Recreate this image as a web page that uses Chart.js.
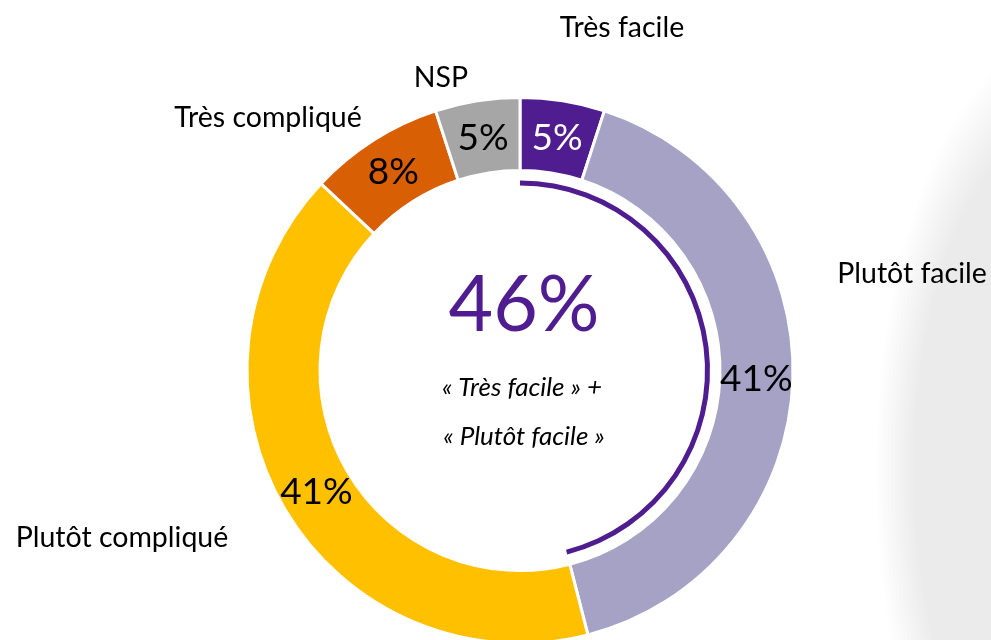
<!DOCTYPE html>
<html>
<head>
<meta charset="utf-8">
<script src="https://cdn.jsdelivr.net/npm/chart.js@4.4.1/dist/chart.umd.min.js"></script>
<style>
  html, body { margin: 0; padding: 0; width: 991px; height: 640px; overflow: hidden; }
  body {
    background: #fff radial-gradient(ellipse 200px 440px at 1075px 470px, #ebebeb 0%, #ebebeb 80%, rgba(255,255,255,0) 100%);
    position: relative;
  }
  #wrap { position: absolute; left: 0; top: 0; width: 991px; height: 740px; }
</style>
</head>
<body>
<div id="wrap"><canvas id="chart"></canvas></div>
<script>
// data
const categories = ['Très facile', 'Plutôt facile', 'Plutôt compliqué', 'Très compliqué', 'NSP'];
const shares = [5, 41, 41, 8, 5];
const sliceColors = ['#4f1d8f', '#a5a2c6', '#ffc000', '#d95f05', '#a6a6a6'];
const easyTotal = [46, 54];   // "Très facile" + "Plutôt facile", rest
const centerTitle = '46%';
const centerLines = ['« Très facile » +', '« Plutôt facile »'];

// where the category names sit, relative to the doughnut centre
const nameOffsets = [
    {x: 102, y: -343}, {x: 392, y: -97}, {x: -398, y: 167}, {x: -252, y: -253}, {x: -79, y: -293}
];

const FONT = 'Lato, "Open Sans", sans-serif';

const labelPlugin = {
    id: 'labels',
    afterDraw(chart) {
        let ctx = chart.ctx;
        let arcs = chart.getDatasetMeta(0).data;
        let cx = arcs[0].x, cy = arcs[0].y;
        ctx.save();
        ctx.textAlign = 'center';
        ctx.textBaseline = 'middle';
        // values inside the ring
        ctx.font = '37px ' + FONT;
        arcs.forEach((arc, i) => {
            let p = arc.tooltipPosition();
            ctx.fillStyle = i === 0 ? '#ffffff' : '#000000';
            ctx.fillText(shares[i] + '%', p.x, p.y + 1);
        });
        // category names
        ctx.font = '28.5px ' + FONT;
        ctx.fillStyle = '#000000';
        categories.forEach((c, i) => {
            ctx.fillText(c, cx + nameOffsets[i].x, cy + nameOffsets[i].y);
        });
        // centre
        ctx.fillStyle = '#4f1d8f';
        ctx.font = '77px ' + FONT;
        ctx.fillText(centerTitle, cx + 4, cy - 64);
        ctx.fillStyle = '#000000';
        ctx.font = 'italic 26px ' + FONT;
        ctx.fillText(centerLines[0], cx + 2, cy + 17);
        ctx.fillText(centerLines[1], cx + 4, cy + 66);
        ctx.restore();
    }
};

new Chart(document.getElementById('chart').getContext('2d'), {
    type: 'doughnut',
    data: {
        labels: categories,
        datasets: [{
            data: shares,
            backgroundColor: sliceColors,
            borderColor: '#ffffff',
            borderWidth: 3,
            weight: 73
        }, {
            data: [100],
            backgroundColor: 'rgba(0,0,0,0)',
            borderWidth: 0,
            weight: 10
        }, {
            data: easyTotal,
            backgroundColor: ['#4f1d8f', 'rgba(0,0,0,0)'],
            borderWidth: 0,
            weight: 5
        }]
    },
    options: {
        responsive: true,
        maintainAspectRatio: false,
        animation: false,
        cutout: 185,
        layout: { padding: { left: 49, right: 0, top: 96, bottom: 95 } },
        plugins: {
            legend: { display: false },
            tooltip: { enabled: false }
        }
    },
    plugins: [labelPlugin]
});
</script>
</body>
</html>
